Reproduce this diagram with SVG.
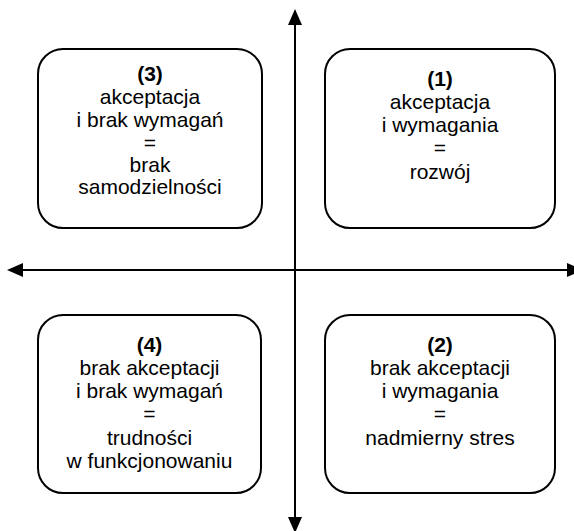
<svg xmlns="http://www.w3.org/2000/svg" width="574" height="531" viewBox="0 0 574 531">
<defs>
<style>
.box{fill:#fff;stroke:#000;stroke-width:2}
.t{font-family:"Liberation Sans",Arial,sans-serif;font-size:21px;fill:#000;text-anchor:middle}
.b{font-weight:bold}
.axis{stroke:#000;stroke-width:2;fill:none}
</style>
<marker id="ah" markerWidth="8" markerHeight="7" refX="0" refY="3.5" orient="auto" markerUnits="strokeWidth">
<path d="M0,0 L8,3.5 L0,7 Z" fill="#000"/>
</marker>
</defs>
<rect width="574" height="531" fill="#fff"/>
<g id="connectors">
<line class="axis" x1="295" y1="270" x2="295" y2="25" marker-end="url(#ah)"/>
<line class="axis" x1="295" y1="270" x2="295" y2="517" marker-end="url(#ah)"/>
<line class="axis" x1="295" y1="270" x2="23" y2="270" marker-end="url(#ah)"/>
<line class="axis" x1="295" y1="270" x2="567" y2="270" marker-end="url(#ah)"/>
</g>
<g id="node3">
<rect class="box" x="38" y="49" width="224" height="179" rx="25"/>
<text class="t b" x="150" y="81">(3)</text>
<text class="t" x="150" y="104">akceptacja</text>
<text class="t" x="150" y="127">i brak wymagań</text>
<text class="t" x="150" y="150">=</text>
<text class="t" x="150" y="172">brak</text>
<text class="t" x="150" y="194">samodzielności</text>
</g>
<g id="node1">
<rect class="box" x="325" y="49" width="230" height="179" rx="25"/>
<text class="t b" x="440" y="86">(1)</text>
<text class="t" x="440" y="109">akceptacja</text>
<text class="t" x="440" y="132">i wymagania</text>
<text class="t" x="440" y="155">=</text>
<text class="t" x="440" y="179">rozwój</text>
</g>
<g id="node4">
<rect class="box" x="38" y="315" width="223" height="178" rx="25"/>
<text class="t b" x="149.5" y="352">(4)</text>
<text class="t" x="149.5" y="375">brak akceptacji</text>
<text class="t" x="149.5" y="398">i brak wymagań</text>
<text class="t" x="149.5" y="421">=</text>
<text class="t" x="149.5" y="445">trudności</text>
<text class="t" x="149.5" y="468">w funkcjonowaniu</text>
</g>
<g id="node2">
<rect class="box" x="325" y="315" width="230" height="178" rx="25"/>
<text class="t b" x="440" y="352">(2)</text>
<text class="t" x="440" y="375">brak akceptacji</text>
<text class="t" x="440" y="398">i wymagania</text>
<text class="t" x="440" y="421">=</text>
<text class="t" x="440" y="445">nadmierny stres</text>
</g>
</svg>
